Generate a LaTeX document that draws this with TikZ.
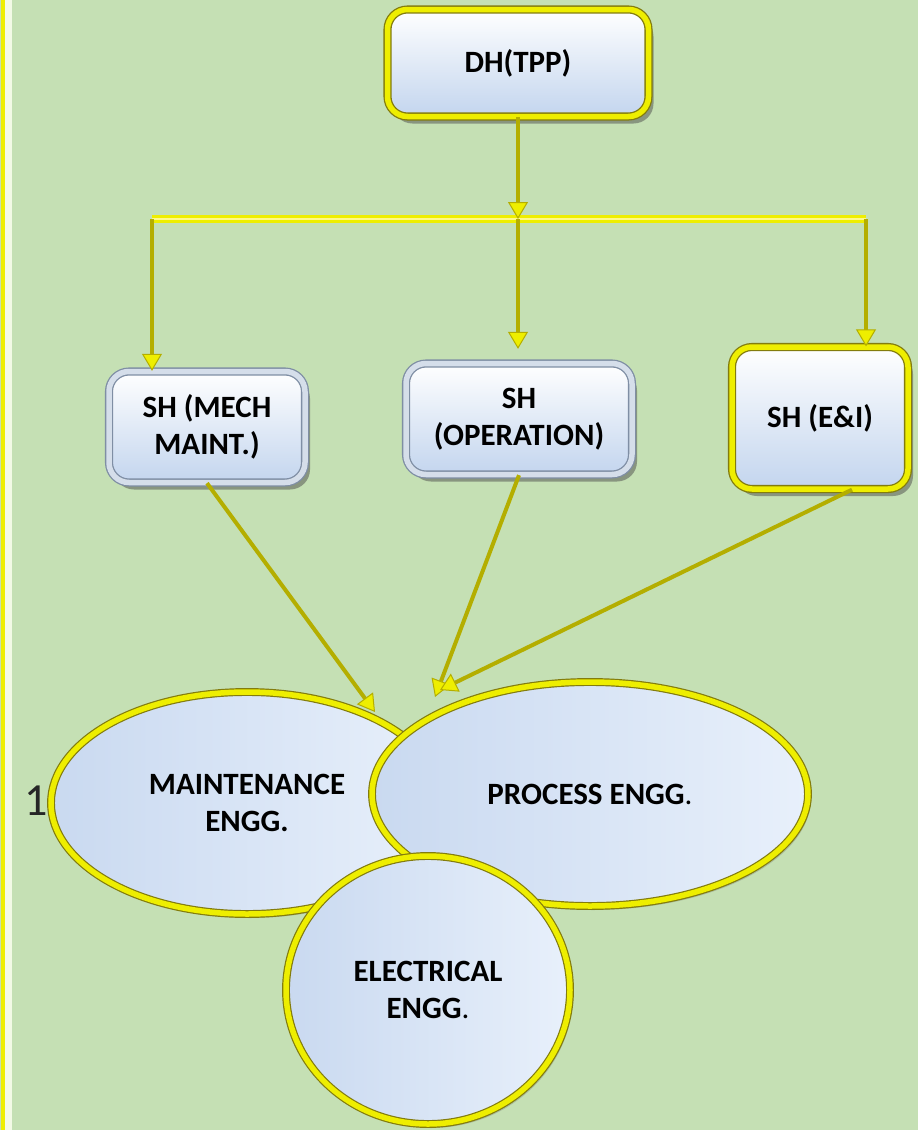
\documentclass[tikz,border=0pt]{standalone}
\usepackage{fontspec}
\setmainfont{Carlito}
\usetikzlibrary{shapes.geometric,shadows,arrows.meta}

\begin{document}
\begin{tikzpicture}[x=1pt,y=-1pt,
  boite/.style={rectangle,rounded corners=20pt,align=center,top color=white,bottom color=bleuboite,
    font=\fontsize{31}{37}\selectfont\bfseries,line width=1.3pt,double distance=5.5pt,
    drop shadow={shadow xshift=5pt,shadow yshift=-7pt,fill=black!70,opacity=.5}},
  boitejaune/.style={boite,draw=olive!90!black,double=jaune},
  boitegrise/.style={boite,draw=grisfonce,double=grisclair},
  bulle/.style={ellipse,align=center,left color=bleuovale,right color=bleupale,
    draw=olive!90!black,double=jaune,line width=1.2pt,double distance=5.5pt,
    font=\fontsize{31}{37}\selectfont\bfseries,
    drop shadow={shadow xshift=3pt,shadow yshift=-4pt,fill=black!60,opacity=.3}},
  fleche/.style={-{Triangle[length=17pt,width=20pt,fill=jaune,line width=1pt]},line width=4pt,draw=jaunefonce}]
\definecolor{fond}{HTML}{C5E0B4}
\definecolor{jaune}{HTML}{EEEE00}
\definecolor{jaunefonce}{HTML}{B4AE00}
\definecolor{creme}{HTML}{F3FAE6}
\definecolor{bleuboite}{HTML}{C3D5EE}
\definecolor{bleuovale}{HTML}{C9D9F0}
\definecolor{bleupale}{HTML}{E8F0FB}
\definecolor{grisfonce}{HTML}{7F8EA4}
\definecolor{grisclair}{HTML}{D5DEEA}

\useasboundingbox (0,0) rectangle (918,1130);
\fill [fond] (0,0) rectangle (918,1130); %le fond vert
\fill [jaune] (1,0) rectangle (5,1130); %la bande a gauche
\fill [creme] (5,0) rectangle (12,1130);

\node [bulle,minimum width=392,minimum height=222] (maint) at (247,803) {MAINTENANCE\\ENGG.};
\node [bulle,minimum width=436,minimum height=224] (proc) at (590,794) {PROCESS ENGG{\mdseries.}};
\node [bulle,minimum width=284,minimum height=268] (elec) at (428,990) {ELECTRICAL\\ENGG{\mdseries.}};
\node [font=\fontsize{46}{50}\selectfont,color=black!85] (un) at (36,801) {1};

\node [boitejaune,minimum width=261,minimum height=107] (dh) at (518,63) {DH(TPP)};
\node [boitegrise,minimum width=196,minimum height=111] (mech) at (207,427) {SH (MECH\\MAINT.)};
\node [boitegrise,minimum width=226,minimum height=111] (oper) at (519,419) {SH\\(OPERATION)};
\node [boitejaune,minimum width=176,minimum height=142] (ei) at (820,418) {SH (E\&I)};

\coordinate (barreG) at (152,219);
\coordinate (barreM) at (518,219);
\coordinate (barreD) at (866,219);
\draw [line width=8pt,color=jaune] (barreG)-- (barreD); %la barre
\draw [line width=2pt,color=yellow!45!white] (barreG)-- (barreD);

\draw [fleche] (dh.south)-- (barreM);
\draw [fleche] (barreG)-- (barreG |- mech.north);
\draw [fleche,shorten >=14pt] (barreM)-- (barreM |- oper.north);
\draw [fleche] (barreD)-- (barreD |- ei.north);

\draw [fleche] (mech.south)-- ([xshift=128pt,yshift=91pt]maint.center);
\draw [fleche] (oper.south)-- ([xshift=-155pt,yshift=97pt]proc.center);
\draw [fleche] ([xshift=32pt]ei.south)-- ([xshift=-150pt,yshift=104pt]proc.center);
\end{tikzpicture}
\end{document}
